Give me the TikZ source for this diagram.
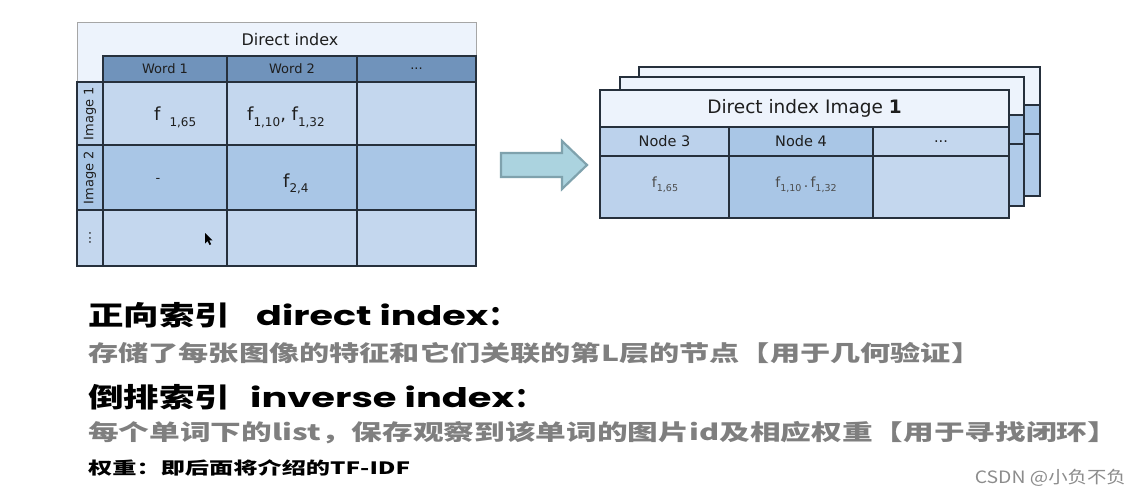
\documentclass[tikz,border=0pt]{standalone}
\usepackage{fontspec}
\setmainfont{DejaVu Sans}
\newfontfamily\cjk{Noto Sans CJK SC}
\newfontfamily\lat{Poppins}
\usepackage{graphicx}
\definecolor{bord}{HTML}{26303C}
\definecolor{titleb}{HTML}{EDF3FC}
\definecolor{hdr}{HTML}{7093BB}
\definecolor{cellL}{HTML}{C4D7EE}
\definecolor{cellM}{HTML}{BCD2EC}
\definecolor{cellD}{HTML}{A9C6E6}
\definecolor{cellB}{HTML}{B0CBE9}
\definecolor{arrowF}{HTML}{ABD3DF}
\definecolor{arrowD}{HTML}{7FA2AD}
\definecolor{greytxt}{HTML}{7F7F7F}
\definecolor{txt}{HTML}{1E1E1E}
\newcommand\tcell[7][]{\node[cell,minimum width={(#5)-(#3)},minimum height={(#6)-(#4)},#1] (#2) at (#3,#4) {#7};}
\newcommand\wbox[2]{\resizebox{#1}{\height}{#2}}
\tikzset{
  cell/.style={draw=bord, line width=1.3pt, inner sep=0pt, outer sep=0pt, anchor=north west, text=txt, font=\fontsize{13}{13}\selectfont},
  txtlbl/.style={inner sep=0pt, text=txt},
  line/.style={anchor=west, inner sep=0pt},
}
\begin{document}
\begin{tikzpicture}[x=1pt,y=-1pt]
\useasboundingbox (0,0) rectangle (1140,498);
\fill[white] (0,0) rectangle (1140,498);
% ---------------- left table ----------------
\node[draw=gray!70, line width=0.8pt, fill=titleb, inner sep=0pt, anchor=north west, minimum width=399pt, minimum height=244pt] (lframe) at (77,22) {};
\node[txtlbl, font=\fontsize{16}{16}\selectfont] (ltitle) at (290,40) {Direct index};
\tcell[fill=hdr]{w1}{103}{56}{227}{82}{Word 1}
\tcell[fill=hdr]{w2}{227}{56}{357}{82}{Word 2}
\tcell[fill=hdr]{w3}{357}{56}{476}{82}{...}
\tcell[fill=cellM]{r1}{77}{82}{103}{145}{\rotatebox{90}{Image 1}}
\tcell[fill=cellD]{r2}{77}{145}{103}{210}{\rotatebox{90}{Image 2}}
\tcell[fill=cellL]{r3}{77}{210}{103}{266}{\rotatebox{90}{...}}
\tcell[fill=cellL]{c11}{103}{82}{227}{145}{}
\tcell[fill=cellL]{c12}{227}{82}{357}{145}{}
\tcell[fill=cellL]{c13}{357}{82}{476}{145}{}
\tcell[fill=cellD]{c21}{103}{145}{227}{210}{}
\tcell[fill=cellD]{c22}{227}{145}{357}{210}{}
\tcell[fill=cellD]{c23}{357}{145}{476}{210}{}
\tcell[fill=cellL]{c31}{103}{210}{227}{266}{}
\tcell[fill=cellL]{c32}{227}{210}{357}{266}{}
\tcell[fill=cellL]{c33}{357}{210}{476}{266}{}
\node[txtlbl, anchor=base west] (t11) at (154,120) {\fontsize{18}{18}\selectfont f\hspace{9pt}\raisebox{-6pt}{\fontsize{12}{12}\selectfont 1,65}};
\node[txtlbl, anchor=base west] (t12) at (247,120) {\fontsize{18}{18}\selectfont f\raisebox{-6pt}{\fontsize{12}{12}\selectfont 1,10}, f\raisebox{-6pt}{\fontsize{12}{12}\selectfont 1,32}};
\node[txtlbl, font=\fontsize{13}{13}\selectfont] (t21) at (158,180) {-};
\node[txtlbl, anchor=base west] (t22) at (283,187) {\fontsize{18}{18}\selectfont f\raisebox{-5pt}{\fontsize{12}{12}\selectfont 2,4}};
\fill[black] (205,233) -- (205,243.5) -- (207.6,241) -- (209.6,245) -- (211.2,244.2) -- (209.3,240.4) -- (212.6,240.4) -- cycle;
% ---------------- arrow ----------------
\draw[draw=arrowD, fill=arrowF, line width=2.2pt, line join=miter]
  (501,153) -- (562,153) -- (562,141) -- (587,165) -- (562,189) -- (562,177) -- (501,177) -- cycle;
% ---------------- right stacked tables ----------------
\tcell[fill=titleb]{a3t}{639}{67}{1040}{105}{}
\tcell[fill=cellD]{a3h}{639}{105}{1040}{134}{}
\tcell[fill=cellB]{a3b}{639}{134}{1040}{196}{}
\tcell[fill=titleb]{a2t}{620}{77}{1024}{115}{}
\tcell[fill=cellD]{a2h}{620}{115}{1024}{144}{}
\tcell[fill=cellB]{a2b}{620}{144}{1024}{206}{}
\tcell[fill=titleb, font=\fontsize{18.5}{18.5}\selectfont]{ft}{600}{90}{1009}{127}{Direct index Image \textbf{1}}
\tcell[fill=cellM, font=\fontsize{14.5}{14.5}\selectfont]{n3}{600}{127}{729}{156}{Node 3}
\tcell[fill=cellD, font=\fontsize{14.5}{14.5}\selectfont]{n4}{729}{127}{873}{156}{Node 4}
\tcell[fill=cellL, font=\fontsize{14.5}{14.5}\selectfont]{n5}{873}{127}{1009}{156}{...}
\tcell[fill=cellM]{b3}{600}{156}{729}{218}{}
\tcell[fill=cellD]{b4}{729}{156}{873}{218}{}
\tcell[fill=cellL]{b5}{873}{156}{1009}{218}{}
\node[txtlbl, text=txt!80] (s3) at (665,185) {\fontsize{14}{14}\selectfont f\raisebox{-4pt}{\fontsize{9.5}{9.5}\selectfont 1,65}};
\node[txtlbl, text=txt!80] (s4) at (806,185) {\fontsize{14}{14}\selectfont f\raisebox{-4pt}{\fontsize{9.5}{9.5}\selectfont 1,10}\,.\,f\raisebox{-4pt}{\fontsize{9.5}{9.5}\selectfont 1,32}};
% ---------------- text lines ----------------
\node[line] (l1) at (88,315) {\fontsize{27}{27}\selectfont\wbox{142pt}{\cjk\bfseries 正向索引}\hspace{26pt}\wbox{232pt}{\lat\bfseries direct index}\wbox{30pt}{\cjk\bfseries ：}};
\node[line, text=greytxt] (l2) at (88,353) {\wbox{893pt}{\cjk\bfseries\fontsize{22}{22}\selectfont 存储了每张图像的特征和它们关联的第L层的节点【用于几何验证】}};
\node[line] (l3) at (88,397) {\fontsize{27}{27}\selectfont\wbox{142pt}{\cjk\bfseries 倒排索引}\hspace{20pt}\wbox{264pt}{\lat\bfseries inverse index}\wbox{30pt}{\cjk\bfseries ：}};
\node[line, text=greytxt] (l4) at (88,433) {\wbox{1030pt}{\cjk\bfseries\fontsize{22}{22}\selectfont 每个单词下的list，保存观察到该单词的图片id及相应权重【用于寻找闭环】}};
\node[line] (l5) at (88,468) {\wbox{322pt}{\cjk\bfseries\fontsize{17}{17}\selectfont 权重：即后面将介绍的TF-IDF}};
\node[anchor=east, inner sep=0pt, text=black!45] (wm) at (1126,478) {\wbox{151pt}{\cjk\fontsize{17}{17}\selectfont CSDN @小负不负}};
\end{tikzpicture}
\end{document}
